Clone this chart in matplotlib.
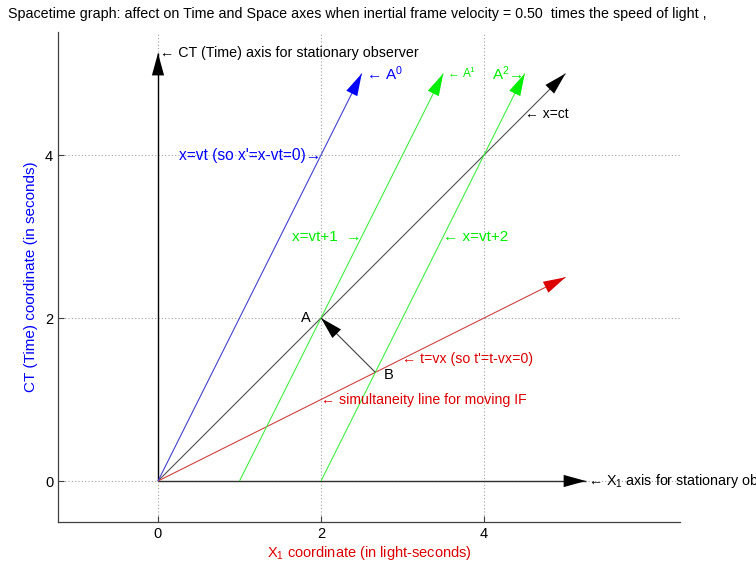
import matplotlib
matplotlib.use("Agg")
import matplotlib.pyplot as plt

plt.rcParams['font.family'] = ['Liberation Sans', 'DejaVu Sans']
plt.rcParams['mathtext.fontset'] = 'custom'
plt.rcParams['mathtext.rm'] = 'Liberation Sans'
plt.rcParams['mathtext.it'] = 'Liberation Sans'

# ---- data ----
velocity = 0.50
tick_values = [0, 2, 4]
ct_axis_tip = [0, 5.25]
x_axis_tip = [5.25, 0]
worldline_start_x = [0, 1, 2]      # x at t = 0
worldline_end_x = [2.5, 3.5, 4.5]  # x at t = 5
worldline_end_t = [5, 5, 5]
light_end = [5, 5]
simul_end = [5, 2.5]
point_A = [2, 2]
point_B = [2.667, 1.333]

BLUE = '#0000ff'
BLUE_LINE = '#4040d0'
GREEN = '#00ee00'
GREEN_LINE = '#40ee40'
RED = '#dd0000'
RED_LINE = '#d04040'

fig = plt.figure(figsize=(7.56, 5.61), dpi=100)
ax = fig.add_axes([58/756, 1-522/561, (680-58)/756, (522-32)/561])
ax.set_xlim(-1.227, 6.405)
ax.set_ylim(-0.503, 5.51)

for s in ['top', 'right']:
    ax.spines[s].set_visible(False)
for s in ['left', 'bottom']:
    ax.spines[s].set_color('#404040')
    ax.spines[s].set_linewidth(0.9)
ax.set_xticks(tick_values)
ax.set_yticks(tick_values)
ax.tick_params(direction='in', length=4, labelsize=10.5, colors='#404040', labelcolor='black')
ax.grid(True, linestyle=(0, (1, 2)), color='#a0a0a0', linewidth=0.8)
ax.set_axisbelow(True)

ax.set_xlabel('X$_1$ coordinate (in light-seconds)', color=RED, fontsize=10.5, labelpad=2)
ax.set_ylabel('CT (Time) coordinate (in seconds)', color=BLUE, fontsize=11, labelpad=5)

fig.text(8/756, 1-14/561, 'Spacetime graph: affect on Time and Space axes when inertial frame velocity = %.2f  times the speed of light ,' % velocity,
         fontsize=10.3, va='center', ha='left')


def arrow(p0, p1, line_color, head_color, lw=0.8, scale=20):
    ax.plot([p0[0], p1[0]], [p0[1], p1[1]], color=line_color, lw=lw, solid_capstyle='butt')
    ax.annotate('', xy=(p1[0], p1[1]), xytext=(p0[0], p0[1]),
                arrowprops=dict(arrowstyle='-|>,head_length=0.8,head_width=0.22',
                                mutation_scale=scale, color=head_color, lw=0,
                                shrinkA=0, shrinkB=0))

# stationary axes
arrow([0, 0], ct_axis_tip, 'black', 'black', lw=1.0)
arrow([0, 0], x_axis_tip, '#303030', 'black', lw=1.0)

# light line x = ct
arrow([0, 0], light_end, '#505050', 'black')
# simultaneity line t = vx
arrow([0, 0], simul_end, RED_LINE, RED)
# worldlines x = vt + k
cols_line = [BLUE_LINE, GREEN_LINE, GREEN_LINE]
cols_head = [BLUE, GREEN, GREEN]
for x0, x1, t1, cl, ch in zip(worldline_start_x, worldline_end_x, worldline_end_t, cols_line, cols_head):
    arrow([x0, 0], [x1, t1], cl, ch)

# B -> A
arrow(point_B, point_A, '#404040', 'black')

# labels
ax.text(ct_axis_tip[0] + 0.02, ct_axis_tip[1], '\u2190 CT (Time) axis for stationary observer', fontsize=10.3, va='center')
ax.text(x_axis_tip[0] + 0.03, x_axis_tip[1], '\u2190 X$_1$ axis for stationary observer', fontsize=10.3, va='center', clip_on=False)
ax.text(worldline_end_x[0] + 0.05, worldline_end_t[0], '\u2190 A$^0$', color=BLUE, fontsize=11, va='center')
ax.text(worldline_end_x[1] + 0.05, worldline_end_t[1], '\u2190 A$^1$', color=GREEN, fontsize=8.5, va='center')
ax.text(worldline_end_x[2] - 0.02, worldline_end_t[2], 'A$^2$\u2192', color=GREEN, fontsize=11, va='center', ha='right')
ax.text(4.5, 4.5, '\u2190 x=ct', fontsize=10, va='center')
ax.text(2.0, 4.0, "x=vt (so x'=x-vt=0)\u2192", color=BLUE, fontsize=11.2, va='center', ha='right')
ax.text(2.5, 3.0, 'x=vt+1  \u2192', color=GREEN, fontsize=11, va='center', ha='right')
ax.text(3.5, 3.0, '\u2190 x=vt+2', color=GREEN, fontsize=11, va='center', ha='left')
ax.text(3.0, 1.5, "\u2190 t=vx (so t'=t-vx=0)", color=RED, fontsize=10.2, va='center', ha='left')
ax.text(2.0, 1.0, '\u2190 simultaneity line for moving IF', color=RED, fontsize=10.2, va='center', ha='left')
ax.text(point_A[0] - 0.12, point_A[1], 'A', fontsize=10.5, va='center', ha='right')
ax.text(point_B[0] + 0.1, point_B[1] - 0.03, 'B', fontsize=10.5, va='center', ha='left')

fig.savefig('out.png', dpi=100)
